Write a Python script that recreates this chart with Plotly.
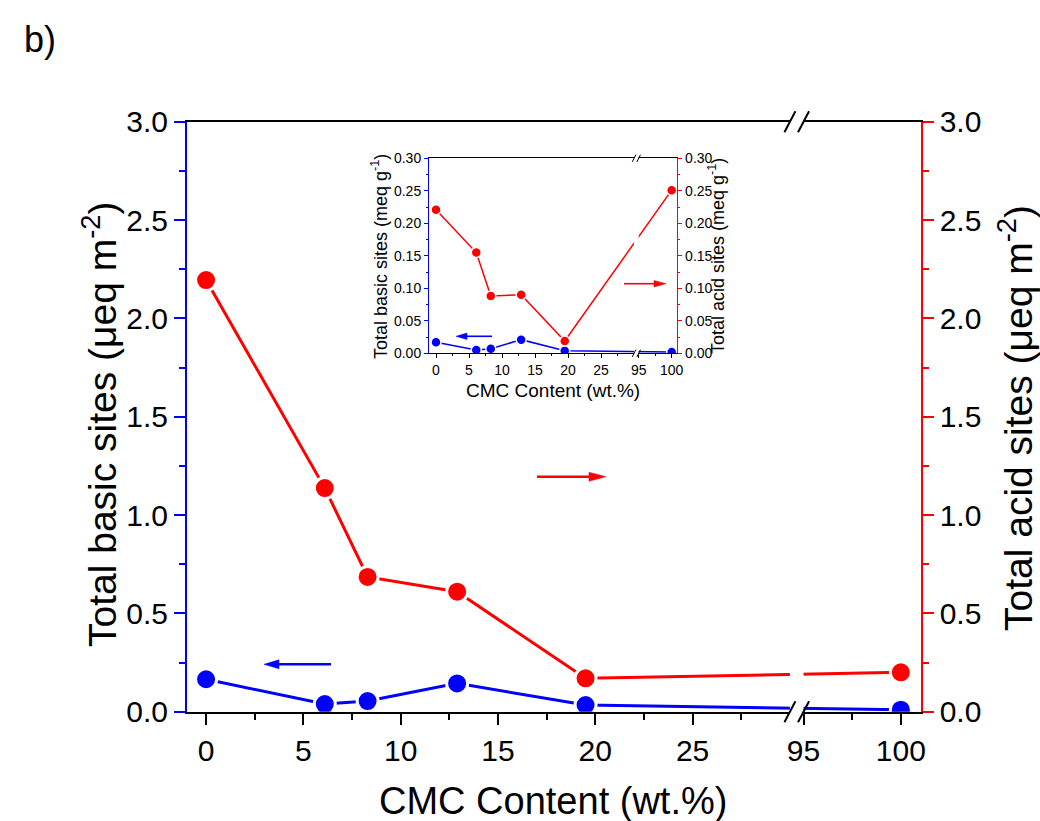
import plotly.graph_objects as go

# ---------------- data ----------------
cmc = [0, 6.1, 8.3, 12.9, 19.5, 100]
basic_main = [0.165, 0.039, 0.054, 0.144, 0.034, 0.010]   # µeq m-2
acid_main = [2.195, 1.137, 0.685, 0.610, 0.170, 0.200]    # µeq m-2
basic_inset = [0.017, 0.005, 0.007, 0.021, 0.004, 0.002]  # meq g-1
acid_inset = [0.221, 0.155, 0.088, 0.090, 0.019, 0.251]   # meq g-1
x_major = [0, 5, 10, 15, 20, 25, 95, 100]
x_minor = [2.5, 7.5, 12.5, 17.5, 22.5, 27.5, 97.5]
x_labels = [str(v) for v in x_major]

# broken x axis: 0..30 | 95..
BREAK_LO, BREAK_HI, RESUME = 30.0, 30.7, 95.0


def brk(v):
    return v if v <= BREAK_LO else v - RESUME + BREAK_HI


W, H = 1040, 821
BLUE, RED = "#0000FF", "#FF0000"
FONT = "Liberation Sans, Arial, sans-serif"

MAIN_XD = [187 / W, 920.7 / W]
MAIN_YD = [1 - 711.7 / H, 1 - 121.7 / H]
MAIN_XR = [-0.98, 36.72]
INS_XD = [429 / W, 677.3 / W]
INS_YD = [1 - 353.3 / H, 1 - 158.3 / H]
INS_XR = [-1.06, 36.55]

xb = [brk(v) for v in cmc]
xt = [brk(v) for v in x_major]
xm = [brk(v) for v in x_minor]

fig = go.Figure()

# main traces
fig.add_trace(go.Scatter(x=xb, y=basic_main, xaxis="x", yaxis="y", mode="lines+markers",
                         line=dict(color=BLUE, width=3),
                         marker=dict(size=21, color=BLUE, line=dict(color="white", width=3)),
                         name="Total basic sites", showlegend=False))
fig.add_trace(go.Scatter(x=xb, y=acid_main, xaxis="x", yaxis="y2", mode="lines+markers",
                         line=dict(color=RED, width=3),
                         marker=dict(size=21, color=RED, line=dict(color="white", width=3)),
                         name="Total acid sites", showlegend=False))
# inset traces
fig.add_trace(go.Scatter(x=xb, y=basic_inset, xaxis="x3", yaxis="y3", mode="lines+markers",
                         line=dict(color=BLUE, width=1.5),
                         marker=dict(size=10, color=BLUE, line=dict(color="white", width=1.5)),
                         showlegend=False))
fig.add_trace(go.Scatter(x=xb, y=acid_inset, xaxis="x3", yaxis="y4", mode="lines+markers",
                         line=dict(color=RED, width=1.5),
                         marker=dict(size=10, color=RED, line=dict(color="white", width=1.5)),
                         showlegend=False))

tickfont_main = dict(family=FONT, size=30, color="black")
tickfont_ins = dict(family=FONT, size=14, color="black")

fig.update_layout(
    width=W, height=H,
    margin=dict(l=0, r=0, t=0, b=0, autoexpand=False),
    paper_bgcolor="white", plot_bgcolor="white",
    font=dict(family=FONT, color="black"),
    xaxis=dict(domain=MAIN_XD, range=MAIN_XR, anchor="y", automargin=False,
               tickmode="array", tickvals=xt, ticktext=x_labels,
               ticks="outside", ticklen=11, tickwidth=2, tickcolor="black",
               minor=dict(tickvals=xm, ticks="outside", ticklen=6, tickwidth=2, tickcolor="black"),
               showline=True, linecolor="black", linewidth=2, mirror=True,
               showgrid=False, zeroline=False, tickfont=tickfont_main),
    yaxis=dict(domain=MAIN_YD, range=[0, 3], anchor="x", automargin=False,
               tickmode="linear", tick0=0, dtick=0.5, tickformat=".1f",
               ticks="outside", ticklen=11, tickwidth=2, tickcolor=BLUE,
               minor=dict(dtick=0.25, ticks="outside", ticklen=6, tickwidth=2, tickcolor=BLUE),
               showline=True, linecolor=BLUE, linewidth=2,
               showgrid=False, zeroline=False, tickfont=tickfont_main),
    yaxis2=dict(range=[0, 3], overlaying="y", side="right", anchor="x", automargin=False,
                tickmode="linear", tick0=0, dtick=0.5, tickformat=".1f",
                ticks="outside", ticklen=11, tickwidth=2, tickcolor=RED,
                minor=dict(dtick=0.25, ticks="outside", ticklen=6, tickwidth=2, tickcolor=RED),
                showline=True, linecolor=RED, linewidth=2,
                showgrid=False, zeroline=False, tickfont=tickfont_main),
    xaxis3=dict(domain=INS_XD, range=INS_XR, anchor="y3", automargin=False,
                tickmode="array", tickvals=xt, ticktext=x_labels,
                ticks="outside", ticklen=4, tickwidth=1, tickcolor="black",
                minor=dict(tickvals=xm, ticks="outside", ticklen=2, tickwidth=1, tickcolor="black"),
                showline=True, linecolor="black", linewidth=1, mirror=True,
                showgrid=False, zeroline=False, tickfont=tickfont_ins),
    yaxis3=dict(domain=INS_YD, range=[0, 0.3], anchor="x3", automargin=False,
                tickmode="linear", tick0=0, dtick=0.05, tickformat=".2f",
                ticks="outside", ticklen=4, tickwidth=1, tickcolor=BLUE,
                minor=dict(dtick=0.025, ticks="outside", ticklen=2, tickwidth=1, tickcolor=BLUE),
                showline=True, linecolor=BLUE, linewidth=1,
                showgrid=False, zeroline=False, tickfont=tickfont_ins),
    yaxis4=dict(range=[0, 0.3], overlaying="y3", side="right", anchor="x3", automargin=False,
                tickmode="linear", tick0=0, dtick=0.05, tickformat=".2f",
                ticks="outside", ticklen=4, tickwidth=1, tickcolor=RED,
                minor=dict(dtick=0.025, ticks="outside", ticklen=2, tickwidth=1, tickcolor=RED),
                showline=True, linecolor=RED, linewidth=1,
                showgrid=False, zeroline=False, tickfont=tickfont_ins),
)


def xpaper(xv, dom, rng):
    return dom[0] + (xv - rng[0]) / (rng[1] - rng[0]) * (dom[1] - dom[0])


shapes = []


def add_break(dom, rng, ydom, half_w, half_h, lw, pad):
    xa = xpaper(BREAK_LO, dom, rng)
    xbk = xpaper(BREAK_HI, dom, rng)
    shapes.append(dict(type="rect", xref="paper", yref="paper", layer="above",
                       x0=xa, x1=xbk, y0=ydom[0] - pad / H, y1=ydom[1] + pad / H,
                       fillcolor="white", line=dict(width=0)))
    for yc in ydom:
        for xc in (xa, xbk):
            shapes.append(dict(type="line", xref="paper", yref="paper", layer="above",
                               x0=xc - half_w / W, x1=xc + half_w / W,
                               y0=yc - half_h / H, y1=yc + half_h / H,
                               line=dict(color="black", width=lw)))


add_break(MAIN_XD, MAIN_XR, MAIN_YD, 5.5, 10.5, 2, 2.5)
add_break(INS_XD, INS_XR, INS_YD, 1.8, 3.6, 1, 1.5)


def add_arrow(tail_px, tip_px, y_px, head_len, head_half, lw, color):
    """Direction arrow (decoration) drawn in page pixels -> paper units."""
    d = 1 if tip_px > tail_px else -1
    base = tip_px - d * head_len
    yp = 1 - y_px / H
    shapes.append(dict(type="line", xref="paper", yref="paper", layer="above",
                       x0=tail_px / W, x1=(base + d * 1) / W, y0=yp, y1=yp,
                       line=dict(color=color, width=lw)))
    path = "M {:.5f},{:.5f} L {:.5f},{:.5f} L {:.5f},{:.5f} Z".format(
        tip_px / W, yp, base / W, yp + head_half / H, base / W, yp - head_half / H)
    shapes.append(dict(type="path", xref="paper", yref="paper", layer="above", path=path,
                       fillcolor=color, line=dict(color=color, width=0.5)))


add_arrow(331, 264, 664.3, 15, 4.5, 2.5, BLUE)
add_arrow(537, 606, 476.7, 17, 4.5, 2.5, RED)
add_arrow(492, 456, 336.3, 11, 3.2, 1.6, BLUE)
add_arrow(624, 666, 283.7, 12, 3.2, 1.6, RED)


def label(text, x, y, size, angle=0, xanchor="center"):
    return dict(text=text, x=x / W, y=1 - y / H, xref="paper", yref="paper", showarrow=False,
                xanchor=xanchor, yanchor="middle", textangle=angle,
                font=dict(size=size, family=FONT, color="black"))


annotations = [
    label("b)", 22, 40, 36, xanchor="left"),
    label("CMC Content (wt.%)", 553, 801, 38),
    label("Total basic sites (\u03bceq m<sup>-2</sup>)", 100, 424, 39, -90),
    label("Total acid sites (\u03bceq m<sup>-2</sup>)", 1015, 418, 39, -90),
    label("CMC Content (wt.%)", 553, 390, 19),
    label("Total basic sites (meq g<sup>-1</sup>)", 379, 257, 18, -90),
    label("Total acid sites (meq g<sup>-1</sup>)", 716, 256, 18, -90),
]

fig.update_layout(shapes=shapes, annotations=annotations)
fig.write_html("out.html")
